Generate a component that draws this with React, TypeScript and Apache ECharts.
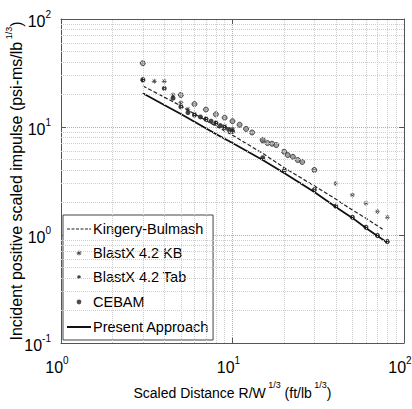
import React, { useEffect, useRef } from "react";
import * as echarts from "echarts";

// ---- data ----
const kbLineX = [3, 4, 5, 6, 8, 10, 15, 20, 30, 40, 50, 60, 75];
const kbLineY = [24, 18.9, 15.7, 13.2, 10.2, 8.4, 5.7, 4.2, 2.85, 2.15, 1.7, 1.43, 1.13];

const presentX = [3, 4, 5, 6, 8, 10, 15, 20, 30, 40, 50, 60, 70, 80];
const presentY = [20.5, 16.0, 13.2, 11.2, 8.6, 7.1, 4.95, 3.75, 2.5, 1.82, 1.44, 1.16, 0.98, 0.85];

const blastKbX = [3, 3.5, 4, 4.5, 5, 5.5, 6, 7, 8, 9, 10, 15, 30, 40, 50, 60, 70, 80];
const blastKbY = [27, 26.5, 26.5, 19.8, 16.8, 14.6, 13.2, 12.0, 11.0, 10.2, 9.6, 7.4, 4.0, 3.0, 2.35, 1.97, 1.65, 1.46];

const blastTabX = [3, 4, 4.5, 5, 5.5, 6, 6.5, 7, 7.5, 8, 8.5, 9, 9.5, 10, 15, 20, 30, 40, 50, 60, 70, 80];
const blastTabY = [27.5, 22.8, 18.5, 15.4, 13.6, 12.9, 12.4, 11.8, 11.3, 10.8, 10.3, 9.9, 9.5, 9.1, 5.2, 3.95, 2.63, 1.85, 1.46, 1.18, 0.99, 0.87];

const cebamX = [3, 5, 6, 7, 8, 9, 10, 11, 12, 13, 15, 16, 17, 18, 20, 21, 22.5, 24, 25.5, 30];
const cebamY = [39, 19.8, 16.3, 14.5, 13.1, 12.2, 11.3, 10.5, 9.6, 8.9, 7.6, 7.1, 7.0, 6.8, 5.9, 5.5, 5.3, 4.95, 4.75, 4.0];

const minorXTicks = [2, 3, 4, 5, 6, 7, 8, 9, 20, 30, 40, 50, 60, 70, 80, 90];
const minorYTicks = [0.2, 0.3, 0.4, 0.5, 0.6, 0.7, 0.8, 0.9, 2, 3, 4, 5, 6, 7, 8, 9, 20, 30, 40, 50, 60, 70, 80, 90];

const legendNames = ["Kingery-Bulmash", "BlastX 4.2 KB", "BlastX 4.2 Tab", "CEBAM", "Present Approach"];

const FONT = '"Liberation Sans", Arial, Helvetica, sans-serif';
const INK = "#000";

const zip = (xs: number[], ys: number[]) => xs.map((x, i) => [x, ys[i]]);

// filled asterisk shape (thin bars)
const asterisk =
  "path://M0,4.3H10V5.7H0Z M4.3,0H5.7V10H4.3Z M1,2L2,1L9,8L8,9Z M8,1L9,2L2,9L1,8Z";

// legend icons: invisible anchors M0,0 M24,16 fix the box so marks keep their real size
const ANCH = "M0,0M24,16";
const iconDashed = "path://" + ANCH + "M0,7.5H3V8.6H0Z M4.5,7.5H7.5V8.6H4.5Z M9,7.5H12V8.6H9Z M13.5,7.5H16.5V8.6H13.5Z M18,7.5H21V8.6H18Z M22.2,7.5H24V8.6H22.2Z";
const iconSolid = "path://" + ANCH + "M0,7H24V9H0Z";
const iconAst = "path://" + ANCH + "M9.6,7.6H14.4V8.4H9.6Z M11.6,5.6H12.4V10.4H11.6Z M10,6.6L10.6,6L14,9.4L13.4,10Z M13.4,6L14,6.6L10.6,10L10,9.4Z";
const iconDot = "path://" + ANCH + "M10.2,8A1.8,1.8 0 1,0 13.8,8A1.8,1.8 0 1,0 10.2,8Z";
const iconCeb = "path://" + ANCH + "M10.6,8A1.4,1.4 0 1,0 13.4,8A1.4,1.4 0 1,0 10.6,8Z";

const legendIcons = [iconDashed, iconAst, iconDot, iconCeb, iconSolid];

const richPow = {
  b: { fontSize: 16, fontFamily: FONT, color: INK, lineHeight: 20, verticalAlign: "bottom" },
  s: { fontSize: 10, fontFamily: FONT, color: INK, lineHeight: 10, verticalAlign: "top" },
};

const powFmt = (v: number) => {
  const e = Math.round(Math.log10(v));
  return `{b|10}{s|${e}}`;
};

const xNameRich = {
  a: { fontSize: 14, fontFamily: FONT, color: INK, lineHeight: 20, verticalAlign: "bottom" },
  s: { fontSize: 9, fontFamily: FONT, color: INK, lineHeight: 10, verticalAlign: "top" },
};
const yNameRich = {
  a: { fontSize: 16, fontFamily: FONT, color: INK, lineHeight: 20, verticalAlign: "bottom" },
  s: { fontSize: 9, fontFamily: FONT, color: INK, lineHeight: 10, verticalAlign: "top" },
};

export default function App() {
  const ref = useRef<HTMLDivElement>(null);
  useEffect(() => {
    if (!ref.current) return;
    const chart = echarts.init(ref.current, undefined, { renderer: "svg" });
    const gridLine = { show: true, lineStyle: { type: "dotted", color: "#b0b0b0", width: 1 } };
    const border = { show: true, lineStyle: { color: "#555", width: 1 } };
    const tick = { show: true, inside: true, length: 5, lineStyle: { color: "#555" } };
    chart.setOption({
      animation: false,
      backgroundColor: "#fff",
      textStyle: { fontFamily: FONT },
      grid: { left: 61, right: 8, top: 19, bottom: 66, containLabel: false, outerBoundsMode: "none" },
      xAxis: [
        {
          type: "log",
          logBase: 10,
          min: 1,
          max: 100,
          axisLine: border,
          axisTick: tick,
          splitLine: gridLine,
          axisLabel: { formatter: powFmt, rich: richPow, margin: 12, hideOverlap: false, padding: [0, 8, 0, 0] },
          name: "{a|Scaled Distance R/W}{s| 1/3}{a| (ft/lb}{s| 1/3}{a|)}",
          nameLocation: "middle",
          nameGap: 37,
          nameMoveOverlap: false,
          nameTextStyle: { rich: xNameRich },
        },
        {
          type: "log",
          logBase: 10,
          min: 1,
          max: 100,
          position: "top",
          axisLine: border,
          axisTick: tick,
          axisLabel: { show: false },
          splitLine: { show: false },
        },
      ],
      yAxis: [
        {
          type: "log",
          logBase: 10,
          min: 0.1,
          max: 100,
          axisLine: border,
          axisTick: tick,
          splitLine: gridLine,
          axisLabel: { formatter: powFmt, rich: richPow, margin: 10 },
          name: "{a|Incident positive scaled impulse (psi-ms/lb}{s| 1/3}{a|)}",
          nameLocation: "middle",
          nameGap: 37,
          nameMoveOverlap: false,
          nameTextStyle: { rich: yNameRich },
        },
        {
          type: "log",
          logBase: 10,
          min: 0.1,
          max: 100,
          position: "right",
          axisLine: border,
          axisTick: tick,
          axisLabel: { show: false },
          splitLine: { show: false },
        },
      ],
      legend: {
        data: legendNames.map((n, i) => ({ name: n, icon: legendIcons[i] })),
        orient: "vertical",
        left: 63,
        top: 215,
        backgroundColor: "#fff",
        borderColor: "#444",
        borderWidth: 1,
        borderRadius: 0,
        padding: [6, 4, 5, 3],
        itemGap: 8,
        itemWidth: 24,
        itemHeight: 16,
        textStyle: { fontSize: 14.5, color: INK, fontFamily: FONT, padding: [0, 0, 0, -3] },
      },
      series: [
        {
          type: "line",
          name: "grid-minor",
          data: [],
          silent: true,
          markLine: {
            silent: true,
            symbol: ["none", "none"],
            label: { show: false },
            lineStyle: { type: "dotted", color: "#cdcdcd", width: 1 },
            data: [
              ...minorXTicks.map((v) => ({ xAxis: v })),
              ...minorYTicks.map((v) => ({ yAxis: v })),
            ],
          },
        },
        {
          type: "line",
          name: "Kingery-Bulmash",
          data: zip(kbLineX, kbLineY),
          symbol: "none",
          lineStyle: { color: "#222", width: 1.2, type: [4, 2] },
          itemStyle: { color: "#222" },
        },
        {
          type: "line",
          name: "Present Approach",
          data: zip(presentX, presentY),
          symbol: "none",
          lineStyle: { color: "#111", width: 1.8 },
          itemStyle: { color: "#111" },
        },
        {
          type: "scatter",
          name: "BlastX 4.2 KB",
          data: zip(blastKbX, blastKbY),
          symbol: asterisk,
          symbolSize: 5,
          itemStyle: { color: "#222" },
        },
        {
          type: "scatter",
          name: "BlastX 4.2 Tab",
          data: zip(blastTabX, blastTabY),
          symbol: "circle",
          symbolSize: 5,
          itemStyle: { color: "#111" },
        },
        {
          type: "scatter",
          name: "CEBAM",
          data: zip(cebamX, cebamY),
          symbol: "circle",
          symbolSize: 5,
          itemStyle: { color: "#8a8a8a", borderColor: "#2a2a2a", borderWidth: 1 },
        },
      ],
    });
    return () => chart.dispose();
  }, []);
  return (
    <div
      ref={ref}
      style={{ position: "fixed", left: 0, top: 0, width: 412, height: 409, background: "#fff" }}
    />
  );
}
